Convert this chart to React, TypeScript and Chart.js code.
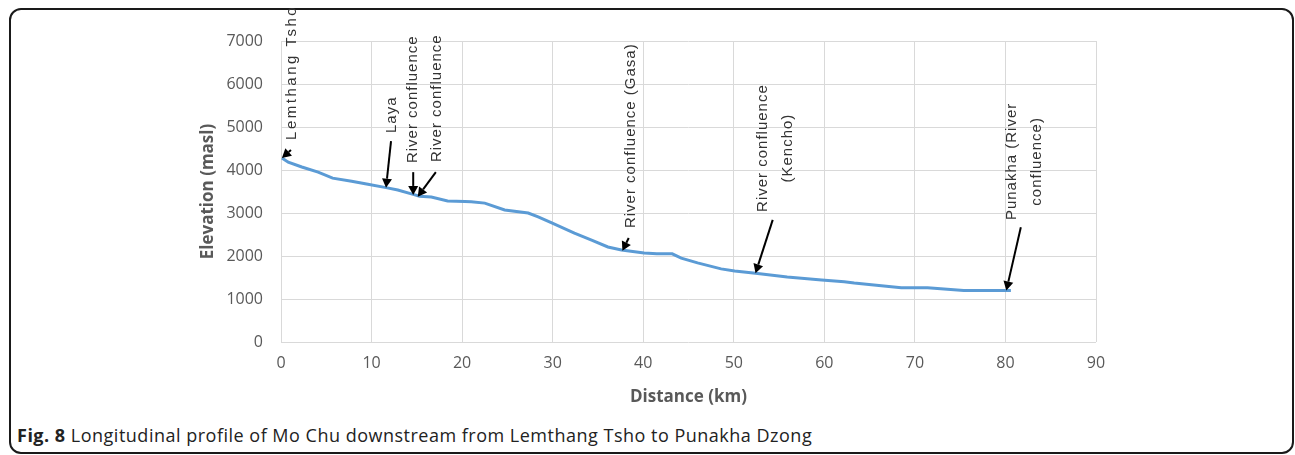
import React, { useEffect, useRef } from "react";
import { Chart, registerables } from "chart.js";

Chart.register(...registerables);

// Longitudinal profile (distance in km, elevation in masl)
const distanceKm = [
  0.1, 0.8, 2.3, 4.1, 5.7, 7.8, 9.6, 11.6, 12.9, 14.5, 15.3, 16.6, 18.4, 20.3, 21.0,
  22.5, 24.7, 27.3, 28.4, 29.9, 32.4, 34.3, 36.1, 37.6, 40.1, 41.5, 43.2, 44.2, 46.0,
  48.6, 50.1, 52.4, 55.9, 59.7, 62.2, 63.3, 65.2, 68.5, 71.4, 75.4, 80.6,
];
const elevationM = [
  4280, 4180, 4070, 3950, 3810, 3740, 3670, 3590, 3535, 3440, 3390, 3370, 3280, 3270, 3260,
  3230, 3070, 3000, 2910, 2770, 2530, 2370, 2210, 2140, 2070, 2050, 2050, 1950, 1840,
  1700, 1650, 1600, 1510, 1440, 1400, 1370, 1330, 1260, 1260, 1200, 1200,
];

// Axis ranges
const xRange = [0, 90];
const xStep = 10;
const yRange = [0, 7000];
const yStep = 1000;

// Annotation texts (lines) and where their arrows point (km, masl)
const annotationTexts = [
  ["Lemthang Tsho"],
  ["Laya"],
  ["River confluence"],
  ["River confluence"],
  ["River confluence (Gasa)"],
  ["River confluence", "(Kencho)"],
  ["Punakha (River", "confluence)"],
];
const arrowTipKm = [0.1, 11.6, 14.6, 15.1, 37.7, 52.4, 80.1];
const arrowTipElev = [4280, 3590, 3420, 3380, 2120, 1600, 1200];
const arrowTailKm = [1.1, 12.15, 14.6, 17.1, 38.4, 54.3, 81.7];
const arrowTailElev = [4465, 4670, 3950, 3950, 2420, 2840, 2670];
const labelKm = [1.21, 12.26, 14.58, 17.23, 38.65, 54.55, 82.05];
const labelElev = [4700, 4860, 4160, 4185, 2650, 4510, 4200];
const labelAlign = ["left", "left", "left", "left", "left", "center", "center"];
const labelSpacing = ["2.5px", "1px", "1px", "1px", "1px", "1px", "1px"];

const annotationPlugin = {
  id: "profileAnnotations",
  afterDatasetsDraw(chart: any) {
    const { ctx } = chart;
    const x = chart.scales.x;
    const y = chart.scales.y;
    ctx.save();
    annotationTexts.forEach((lines, i) => {
      // text
      const tx = x.getPixelForValue(labelKm[i]);
      const ty = y.getPixelForValue(labelElev[i]);
      ctx.save();
      ctx.translate(tx, ty);
      ctx.rotate(-Math.PI / 2);
      ctx.font = "15px 'Liberation Sans', Arial, sans-serif";
      (ctx as any).letterSpacing = labelSpacing[i];
      ctx.fillStyle = "#333333";
      ctx.textAlign = labelAlign[i] as CanvasTextAlign;
      ctx.textBaseline = "middle";
      const lh = 25;
      lines.forEach((ln, j) => {
        ctx.fillText(ln, 0, (j - (lines.length - 1) / 2) * lh);
      });
      ctx.restore();
      // arrow
      const x0 = x.getPixelForValue(arrowTailKm[i]);
      const y0 = y.getPixelForValue(arrowTailElev[i]);
      const x1 = x.getPixelForValue(arrowTipKm[i]);
      const y1 = y.getPixelForValue(arrowTipElev[i]);
      const ang = Math.atan2(y1 - y0, x1 - x0);
      const headLen = 9;
      const headW = 5;
      const bx = x1 - headLen * Math.cos(ang);
      const by = y1 - headLen * Math.sin(ang);
      ctx.strokeStyle = "#000";
      ctx.fillStyle = "#000";
      ctx.lineWidth = 2;
      ctx.beginPath();
      ctx.moveTo(x0, y0);
      ctx.lineTo(bx, by);
      ctx.stroke();
      ctx.beginPath();
      ctx.moveTo(x1, y1);
      ctx.lineTo(bx + headW * Math.sin(ang), by - headW * Math.cos(ang));
      ctx.lineTo(bx - headW * Math.sin(ang), by + headW * Math.cos(ang));
      ctx.closePath();
      ctx.fill();
    });
    ctx.restore();
  },
};

export default function App() {
  const ref = useRef<HTMLCanvasElement>(null);

  useEffect(() => {
    if (!ref.current) return;
    Chart.defaults.font.family = "'Open Sans', sans-serif";
    const points = distanceKm.map((d, i) => ({ x: d, y: elevationM[i] }));
    const chart = new Chart(ref.current, {
      type: "scatter",
      data: {
        datasets: [
          {
            data: points,
            showLine: true,
            borderColor: "#5B9BD5",
            backgroundColor: "#5B9BD5",
            borderWidth: 3,
            pointRadius: 0,
            tension: 0,
          },
        ],
      },
      options: {
        animation: false,
        responsive: false,
        devicePixelRatio: 1,
        layout: { padding: { left: 0, top: 41, right: 199, bottom: 0 } },
        plugins: { legend: { display: false }, tooltip: { enabled: false } },
        scales: {
          x: {
            type: "linear",
            min: xRange[0],
            max: xRange[1],
            ticks: {
              stepSize: xStep,
              color: "#595959",
              padding: 12,
              font: { size: 16 },
              callback: (v: any) => String(v),
            },
            grid: { color: "#d9d9d9", drawTicks: false, lineWidth: 1 },
            border: { display: false },
            title: {
              display: true,
              text: "Distance (km)",
              color: "#595959",
              font: { size: 17, weight: "bold" },
              padding: { top: 0, bottom: 13 },
            },
            afterFit: (s: any) => {
              s.height = 78;
            },
          },
          y: {
            type: "linear",
            min: yRange[0],
            max: yRange[1],
            ticks: {
              stepSize: yStep,
              color: "#595959",
              padding: 18,
              font: { size: 16 },
              callback: (v: any) => String(v),
            },
            grid: { color: "#d9d9d9", drawTicks: false, lineWidth: 1 },
            border: { display: false },
            title: {
              display: true,
              text: "Elevation (masl)",
              color: "#595959",
              font: { size: 17, weight: "bold" },
              padding: { top: 198, bottom: 0 },
            },
            afterFit: (s: any) => {
              s.width = 281;
            },
          },
        },
      },
      plugins: [annotationPlugin],
    });
    return () => chart.destroy();
  }, []);

  return (
    <div style={{ position: "absolute", left: 0, top: 0, width: 1295, height: 455 }}>
      <div
        style={{
          position: "absolute",
          left: 9,
          top: 8,
          width: 1285,
          height: 446,
          border: "2px solid #1a1a1a",
          borderRadius: 12,
          boxSizing: "border-box",
        }}
      />
      <canvas
        ref={ref}
        width={1295}
        height={420}
        style={{ position: "absolute", left: 0, top: 0, width: 1295, height: 420 }}
      />
      <div
        style={{
          position: "absolute",
          left: 17,
          top: 423,
          fontFamily: "'Open Sans', sans-serif",
          fontSize: 18,
          letterSpacing: "0.5px",
          color: "#222",
          whiteSpace: "nowrap",
        }}
      >
        <b>Fig. 8</b> Longitudinal profile of Mo Chu downstream from Lemthang Tsho to Punakha Dzong
      </div>
    </div>
  );
}
